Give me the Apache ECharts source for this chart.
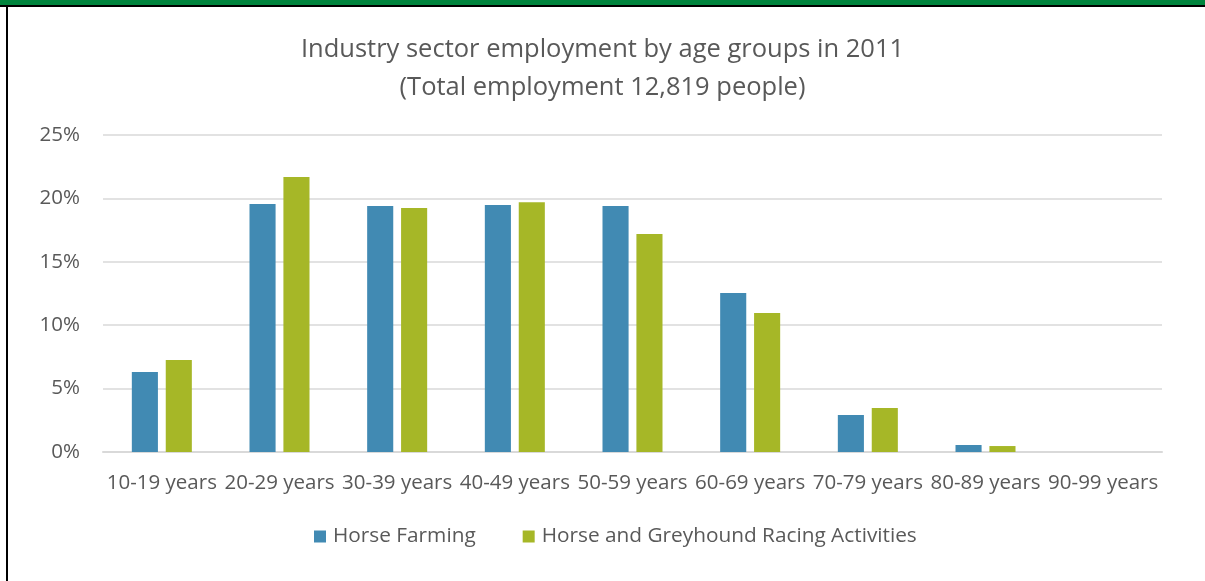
<!DOCTYPE html>
<html>
<head>
<meta charset="utf-8">
<script src="https://cdn.jsdelivr.net/npm/echarts@6/dist/echarts.min.js"></script>
<style>
html,body{margin:0;padding:0;background:#fff;}
#chart{width:1205px;height:581px;}
</style>
</head>
<body>
<div id="chart"></div>
<script>
const categories = ['10-19 years','20-29 years','30-39 years','40-49 years','50-59 years','60-69 years','70-79 years','80-89 years','90-99 years'];
const horseFarming = [6.3, 19.56, 19.4, 19.48, 19.4, 12.54, 2.92, 0.55, 0];
const racingActivities = [7.26, 21.69, 19.24, 19.7, 17.19, 10.96, 3.47, 0.47, 0];
const seriesNames = ['Horse Farming', 'Horse and Greyhound Racing Activities'];
const titleText = 'Industry sector employment by age groups in 2011\n(Total employment 12,819 people)';

const FONT = 'Open Sans';
const chart = echarts.init(document.getElementById('chart'), null, {renderer: 'canvas'});
chart.setOption({
  backgroundColor: '#fff',
  animation: false,
  title: {
    text: titleText,
    left: 'center',
    top: 26,
    textStyle: {fontFamily: FONT, fontSize: 25.5, fontWeight: 'normal', color: '#595959', lineHeight: 38, align: 'center'}
  },
  legend: {
    data: seriesNames,
    top: 521,
    left: 309,
    itemWidth: 12,
    itemHeight: 12,
    itemGap: 47,
    icon: 'rect',
    textStyle: {fontFamily: FONT, fontSize: 20.8, color: '#595959', padding: [0,0,0,2]}
  },
  grid: {left: 103, right: 43, top: 135, bottom: 129, containLabel: false},
  xAxis: {
    type: 'category',
    data: categories,
    axisLine: {lineStyle: {color: '#d9d9d9', width: 2}},
    axisTick: {show: false},
    axisLabel: {fontFamily: FONT, fontSize: 20.5, color: '#595959', margin: 21, interval: 0}
  },
  yAxis: {
    type: 'value',
    min: 0, max: 25, interval: 5,
    axisLine: {show: false},
    axisTick: {show: false},
    splitLine: {lineStyle: {color: '#d9d9d9', width: 1.5}},
    axisLabel: {fontFamily: FONT, fontSize: 20.5, color: '#595959', margin: 23, formatter: '{value}%'}
  },
  series: [
    {name: seriesNames[0], type: 'bar', data: horseFarming, barGap: '30%', barCategoryGap: '49%',
     itemStyle: {color: '#418AB3'}},
    {name: seriesNames[1], type: 'bar', data: racingActivities,
     itemStyle: {color: '#A6B727'}}
  ],
  graphic: [
    {type: 'rect', shape: {x: 0, y: 0, width: 1205, height: 5}, style: {fill: '#00843D'}, z: 100},
    {type: 'rect', shape: {x: 0, y: 5, width: 1205, height: 2}, style: {fill: '#000'}, z: 100},
    {type: 'rect', shape: {x: 6, y: 5, width: 2, height: 576}, style: {fill: '#000'}, z: 100}
  ]
});
</script>
</body>
</html>
